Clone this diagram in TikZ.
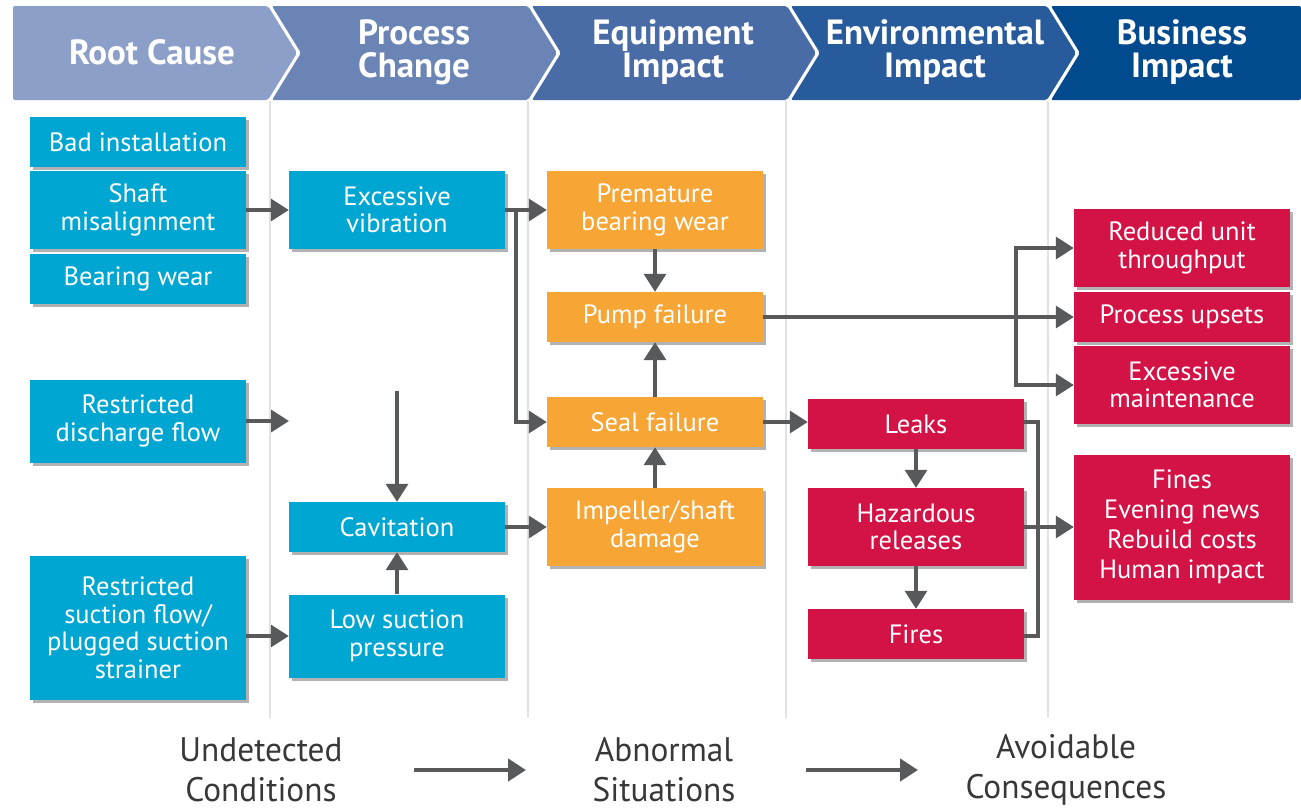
\documentclass[tikz,border=0pt]{standalone}
\usepackage{fontspec}
\setmainfont{PT Sans}
\newfontfamily\hdrfont{PT Sans}
\newfontfamily\botfont[FakeStretch=0.98]{PT Sans}
\usetikzlibrary{arrows.meta,shadows,calc}
\definecolor{cblue}{HTML}{00A6D2}
\definecolor{corange}{HTML}{F7A535}
\definecolor{cred}{HTML}{D31245}
\definecolor{agrey}{HTML}{58595B}
\definecolor{sepgrey}{HTML}{E2E2E2}
\definecolor{hA}{HTML}{8C9FC8}
\definecolor{hB}{HTML}{6B84B6}
\definecolor{hC}{HTML}{4A6CA6}
\definecolor{hD}{HTML}{275B9B}
\definecolor{hE}{HTML}{004A8D}
\begin{document}
\begin{tikzpicture}[x=1pt,y=-1pt,
  box/.style={minimum width=216pt, inner sep=0pt, align=center, text=white,
    font=\fontsize{26.5}{27.5}\selectfont,
    drop shadow={shadow xshift=3pt, shadow yshift=-3pt, opacity=0.3, fill=black}},
  bbox/.style={box, fill=cblue},
  obox/.style={box, fill=corange},
  rbox/.style={box, fill=cred},
  hdr/.style={text=white, align=center, font=\hdrfont\bfseries\fontsize{35}{33}\selectfont},
  bot/.style={text=black!78, align=center, font=\botfont\fontsize{34}{40}\selectfont},
  ar/.style={draw=agrey, line width=3.5pt, -{Triangle[length=18pt,width=22pt]}},
  ln/.style={draw=agrey, line width=3.5pt},
  sep/.style={draw=sepgrey, line width=1.5pt}
]
\useasboundingbox (0,0) rectangle (1301,807);

% header chevrons
\fill[hA, rounded corners=2pt] (13,6) -- (268,6) -- (297,53) -- (268,100) -- (13,100) -- cycle;
\fill[hB, rounded corners=2pt] (272,6) -- (528,6) -- (557,53) -- (528,100) -- (272,100) -- (301,53) -- cycle;
\fill[hC, rounded corners=2pt] (532,6) -- (787,6) -- (816,53) -- (787,100) -- (532,100) -- (561,53) -- cycle;
\fill[hD, rounded corners=2pt] (791,6) -- (1047,6) -- (1076,53) -- (1047,100) -- (791,100) -- (820,53) -- cycle;
\fill[hE, rounded corners=2pt] (1051,6) -- (1301,6) -- (1301,100) -- (1051,100) -- (1080,53) -- cycle;
\node[hdr] (h1) at (152,52) {Root Cause};
\node[hdr] (h2) at (414,52) {Process\\Change};
\node[hdr] (h3) at (673,52) {Equipment\\Impact};
\node[hdr] (h4) at (935,52) {Environmental\\Impact};
\node[hdr] (h5) at (1182,52) {Business\\Impact};

% separators
\draw[sep] (270,101) -- (270,718);
\draw[sep] (528,101) -- (528,718);
\draw[sep] (786,101) -- (786,718);
\draw[sep] (1048,101) -- (1048,718);

% root cause
\node[bbox, minimum height=50pt] (bad) at (138,142) {Bad installation};
\node[bbox, minimum height=78pt] (shaft) at (138,210) {Shaft\\misalignment};
\node[bbox, minimum height=50pt] (bear) at (138,279) {Bearing wear};
\node[bbox, minimum height=83pt] (rdis) at (138,421) {Restricted\\discharge flow};
\node[bbox, minimum height=144pt] (rsuc) at (138,628) {Restricted\\suction flow/\\plugged suction\\strainer};

% process change
\node[bbox, minimum height=78pt] (exvib) at (397,210) {Excessive\\vibration};
\node[bbox, minimum height=50pt] (cav) at (397,527) {Cavitation};
\node[bbox, minimum height=83pt] (lsp) at (397,636) {Low suction\\pressure};

% equipment impact
\node[obox, minimum height=78pt] (prem) at (655,210) {Premature\\bearing wear};
\node[obox, minimum height=50pt] (pump) at (655,317) {Pump failure};
\node[obox, minimum height=50pt] (seal) at (655,422) {Seal failure};
\node[obox, minimum height=78pt] (imp) at (655,527) {Impeller/shaft\\damage};

% environmental impact
\node[rbox, minimum height=50pt] (leaks) at (916,424) {Leaks};
\node[rbox, minimum height=78pt] (haz) at (916,527) {Hazardous\\releases};
\node[rbox, minimum height=50pt] (fires) at (916,634) {Fires};

% business impact
\node[rbox, minimum height=78pt] (red) at (1182,248) {Reduced unit\\throughput};
\node[rbox, minimum height=50pt] (pup) at (1182,317) {Process upsets};
\node[rbox, minimum height=78pt] (exm) at (1182,385) {Excessive\\maintenance};
\node[rbox, minimum height=145pt, font=\fontsize{26.5}{30}\selectfont] (fines) at (1182,527) {Fines\\Evening news\\Rebuild costs\\Human impact};

% connectors
\coordinate (rdend) at (289,421);
\coordinate (cavin) at (397,391);
\coordinate (vb) at (516,210);
\coordinate (pb) at (1016,317);

\draw[ar] (shaft.east) -- (exvib.west);
\draw[ar] (rdis.east) -- (rdend);
\draw[ar] (rsuc.east |- lsp.west) -- (lsp.west);
\draw[ar] (cavin) -- (cav.north);
\draw[ar] (lsp.north) -- (cav.south);
\draw[ar] (exvib.east) -- (prem.west);
\draw[ar] (vb) |- (seal.west);
\draw[ar] (cav.east) -- (imp.west);
\draw[ar] (prem.south) -- (pump.north);
\draw[ar] (seal.north) -- (pump.south);
\draw[ar] (imp.north) -- (seal.south);
\draw[ar] (pump.east) -- (pump.east -| pup.west);
\draw[ar] (pb) |- (red.west);
\draw[ar] (pb) |- (exm.west);
\draw[ar] (seal.east) -- (seal.east -| leaks.west);
\draw[ar] (leaks.south) -- (haz.north);
\draw[ar] (haz.south) -- (fires.north);
\draw[ln] ($(leaks.east)+(0,-2)$) -- ++(14,0) |- ($(fires.east)+(0,2)$);
\draw[ar] (haz.east) -- (haz.east -| fines.west);

% bottom
\node[bot] (und) at (261,770) {Undetected\\Conditions};
\node[bot] (abn) at (664,770) {Abnormal\\Situations};
\node[bot] (avo) at (1066,770) {Avoidable\\Consequences};
\coordinate (a1s) at (414,770);
\coordinate (a1e) at (526,770);
\coordinate (a2s) at (806,770);
\coordinate (a2e) at (918,770);
\draw[ar, line width=4.5pt] (a1s) -- (a1e);
\draw[ar, line width=4.5pt] (a2s) -- (a2e);
\end{tikzpicture}
\end{document}
